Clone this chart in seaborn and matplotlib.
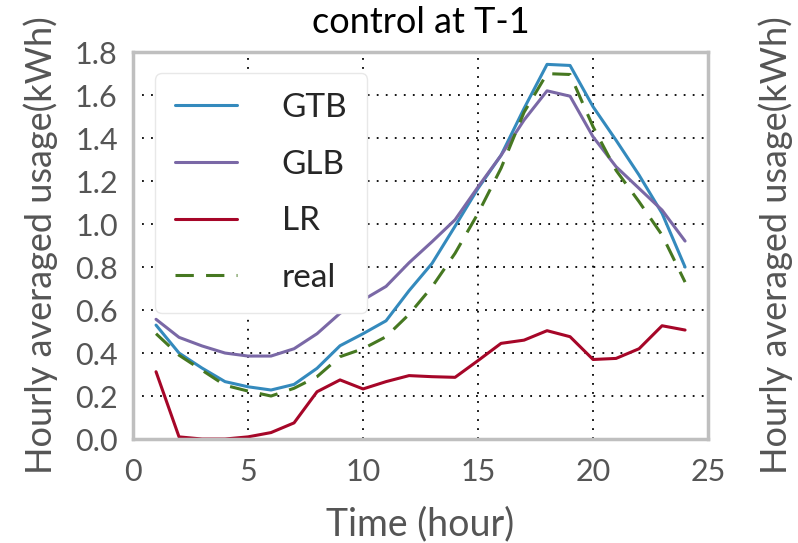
import numpy as np
import pandas as pd
import seaborn as sns
import matplotlib
matplotlib.use("Agg")
import matplotlib.pyplot as plt

# hourly data (hour 1..24)
hours = list(range(1, 25))
gtb = [0.53, 0.40, 0.33, 0.267, 0.243, 0.228, 0.254, 0.329, 0.434, 0.49, 0.55, 0.69,
       0.817, 0.99, 1.166, 1.32, 1.538, 1.743, 1.738, 1.546, 1.39, 1.228, 1.05, 0.80]
glb = [0.557, 0.473, 0.433, 0.40, 0.386, 0.386, 0.42, 0.49, 0.585, 0.647, 0.71, 0.82,
       0.918, 1.02, 1.173, 1.32, 1.484, 1.62, 1.595, 1.406, 1.267, 1.166, 1.065, 0.921]
lr = [0.313, 0.01, 0.0, 0.0, 0.01, 0.03, 0.075, 0.22, 0.275, 0.233, 0.267, 0.295,
      0.29, 0.287, 0.365, 0.445, 0.46, 0.504, 0.476, 0.37, 0.375, 0.42, 0.527, 0.507]
real = [0.49, 0.39, 0.32, 0.25, 0.223, 0.20, 0.236, 0.29, 0.383, 0.42, 0.476, 0.58,
        0.708, 0.864, 1.05, 1.26, 1.52, 1.70, 1.696, 1.453, 1.25, 1.104, 0.949, 0.73]

series_names = ["GTB", "GLB", "LR", "real"]
colors = {"GTB": "#348ABD", "GLB": "#7A68A6", "LR": "#A60628", "real": "#467821"}
dashes = {"GTB": "", "GLB": "", "LR": "", "real": (6, 4)}

df = pd.DataFrame({
    "hour": hours * 4,
    "usage": gtb + glb + lr + real,
    "model": np.repeat(series_names, len(hours)),
})

sns.set_style("white")
plt.rcParams["font.family"] = ["Lato", "DejaVu Sans"]

fig = plt.figure(figsize=(7.98, 5.43), dpi=100)
ax = fig.add_axes([0.1667, 0.1915, 0.7206, 0.7125])

sns.lineplot(data=df, x="hour", y="usage", hue="model", style="model",
             hue_order=series_names, style_order=series_names,
             palette=colors, dashes=dashes, linewidth=2.2, ax=ax)

ax.set_xlim(0, 25)
ax.set_ylim(0, 1.8)
ax.set_xticks([0, 5, 10, 15, 20, 25])
ax.set_yticks(np.arange(0, 1.81, 0.2))
ax.set_yticklabels([f"{v:.1f}" for v in np.arange(0, 1.81, 0.2)])
ax.grid(True, color="black", linestyle=(0, (1, 4)), linewidth=1.3)
for s in ax.spines.values():
    s.set_color("#bfbfbf")
    s.set_linewidth(2.5)
ax.tick_params(axis="both", labelsize=22, colors="#555555", length=0)
ax.tick_params(axis="y", pad=11)
ax.tick_params(axis="x", pad=14)

ax.set_title("control at T-1", fontsize=26, color="black", pad=14)
ax.set_xlabel("Time (hour)", fontsize=27, color="#555555", labelpad=14)
ax.set_ylabel("Hourly averaged usage(kWh)", fontsize=26, color="#555555", labelpad=12)

ax2 = ax.twinx()
ax2.set_yticks([])
ax2.set_ylabel("Hourly averaged usage(kWh)", fontsize=26, color="#555555", labelpad=36)
for s in ax2.spines.values():
    s.set_visible(False)

leg = ax.legend(loc="upper left", fontsize=24, handlelength=1.85, handletextpad=1.35,
                labelspacing=0.8, borderpad=0.6, frameon=True, fancybox=True,
                framealpha=1.0, bbox_to_anchor=(0.038, 0.946), borderaxespad=0)
leg.get_frame().set_edgecolor("#e8e8e8")
for line in leg.get_lines():
    line.set_linewidth(2.2)

fig.savefig("out.png", dpi=100)
